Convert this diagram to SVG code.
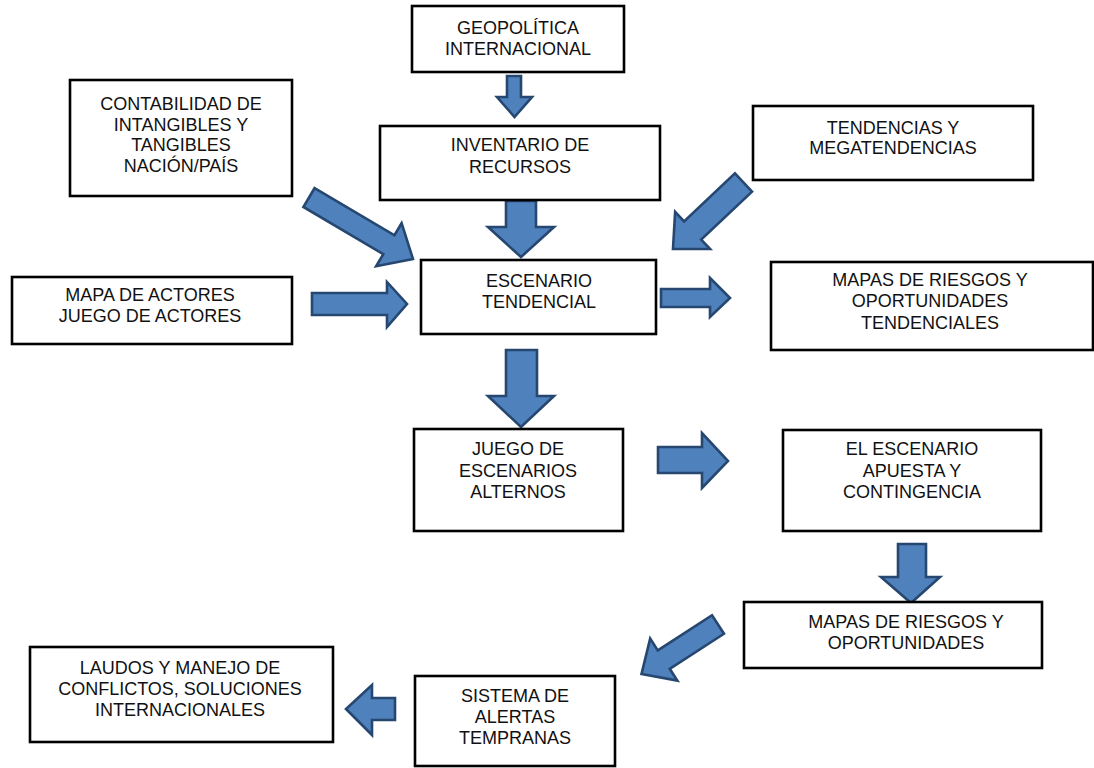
<svg xmlns="http://www.w3.org/2000/svg" width="1094" height="768" viewBox="0 0 1094 768">
<style>
.box{fill:#fff;stroke:#000;stroke-width:2.6}
.arr{fill:#4F81BD;stroke:#264770;stroke-width:2.6;stroke-linejoin:miter}
text{font-family:"Liberation Sans",Arial,sans-serif;font-size:18px;fill:#111;text-anchor:middle;dominant-baseline:central}
</style>
<rect width="1094" height="768" fill="#fff"/>
<g id="connectors">
<polygon class="arr" points="507,76 521,76 521,97 532,97 514.5,117 497,97 507,97"/>
<polygon class="arr" points="506,201 536,201 536,227 554,227 521,257 488,227 506,227"/>
<polygon class="arr" points="506,350 537,350 537,396 554,396 521,427 488,396 506,396"/>
<polygon class="arr" points="312,293 387,293 387,282 407,304 387,327 387,315 312,315"/>
<polygon class="arr" points="661,289 710,289 710,278 730,298 710,317 710,307 661,307"/>
<polygon class="arr" points="658,447 702,447 702,433 728,461 702,488 702,473 658,473"/>
<polygon class="arr" points="898,544 926,544 926,577 940,577 911,603 881,577 898,577"/>
<polygon class="arr" points="395,698 372,698 372,685 346,709 372,735 372,720 395,720"/>
<polygon class="arr" transform="translate(309,197.5) rotate(30.6)" points="0,-11 92.8,-11 92.8,-25 120.8,0 92.8,25 92.8,11 0,11"/>
<polygon class="arr" transform="translate(743.5,182.5) rotate(136.7)" points="0,-12.5 69.9,-12.5 69.9,-25.5 96.9,0 69.9,25.5 69.9,12.5 0,12.5"/>
<polygon class="arr" transform="translate(718,624.5) rotate(147.1)" points="0,-11 64.6,-11 64.6,-25 91.1,0 64.6,25 64.6,11 0,11"/>
</g>
<g id="n-geopolitica"><rect class="box" x="412" y="6" width="212" height="66"/><text x="518" y="28">GEOPOLÍTICA</text><text x="518" y="49">INTERNACIONAL</text></g>
<g id="n-inventario"><rect class="box" x="380" y="126" width="280" height="74"/><text x="520" y="145">INVENTARIO DE</text><text x="520" y="167">RECURSOS</text></g>
<g id="n-contabilidad"><rect class="box" x="70" y="80" width="222" height="116"/><text x="181" y="104">CONTABILIDAD DE</text><text x="181" y="124.5">INTANGIBLES Y</text><text x="181" y="145">TANGIBLES</text><text x="181" y="165.5">NACIÓN/PAÍS</text></g>
<g id="n-tendencias"><rect class="box" x="753" y="106" width="280" height="74"/><text x="893" y="128">TENDENCIAS Y</text><text x="893" y="148">MEGATENDENCIAS</text></g>
<g id="n-actores"><rect class="box" x="12" y="277" width="280" height="67"/><text x="150" y="295">MAPA DE ACTORES</text><text x="150" y="316">JUEGO DE ACTORES</text></g>
<g id="n-escenario"><rect class="box" x="421" y="260" width="235" height="74"/><text x="539" y="281">ESCENARIO</text><text x="539" y="302">TENDENCIAL</text></g>
<g id="n-mapas-tend"><rect class="box" x="771" y="262" width="322" height="88"/><text x="930" y="280">MAPAS DE RIESGOS Y</text><text x="930" y="301">OPORTUNIDADES</text><text x="930" y="323">TENDENCIALES</text></g>
<g id="n-juego"><rect class="box" x="414" y="429" width="209" height="102"/><text x="518" y="449">JUEGO DE</text><text x="518" y="470.5">ESCENARIOS</text><text x="518" y="492">ALTERNOS</text></g>
<g id="n-apuesta"><rect class="box" x="783" y="430" width="258" height="101"/><text x="912" y="449">EL ESCENARIO</text><text x="912" y="470.5">APUESTA Y</text><text x="912" y="492">CONTINGENCIA</text></g>
<g id="n-mapas"><rect class="box" x="744" y="602" width="298" height="66"/><text x="906" y="622">MAPAS DE RIESGOS Y</text><text x="906" y="643">OPORTUNIDADES</text></g>
<g id="n-alertas"><rect class="box" x="415" y="676" width="200" height="90"/><text x="515" y="696">SISTEMA DE</text><text x="515" y="717">ALERTAS</text><text x="515" y="738">TEMPRANAS</text></g>
<g id="n-laudos"><rect class="box" x="30" y="647" width="303" height="95"/><text x="180" y="668">LAUDOS Y MANEJO DE</text><text x="180" y="689">CONFLICTOS, SOLUCIONES</text><text x="180" y="710">INTERNACIONALES</text></g>
</svg>
